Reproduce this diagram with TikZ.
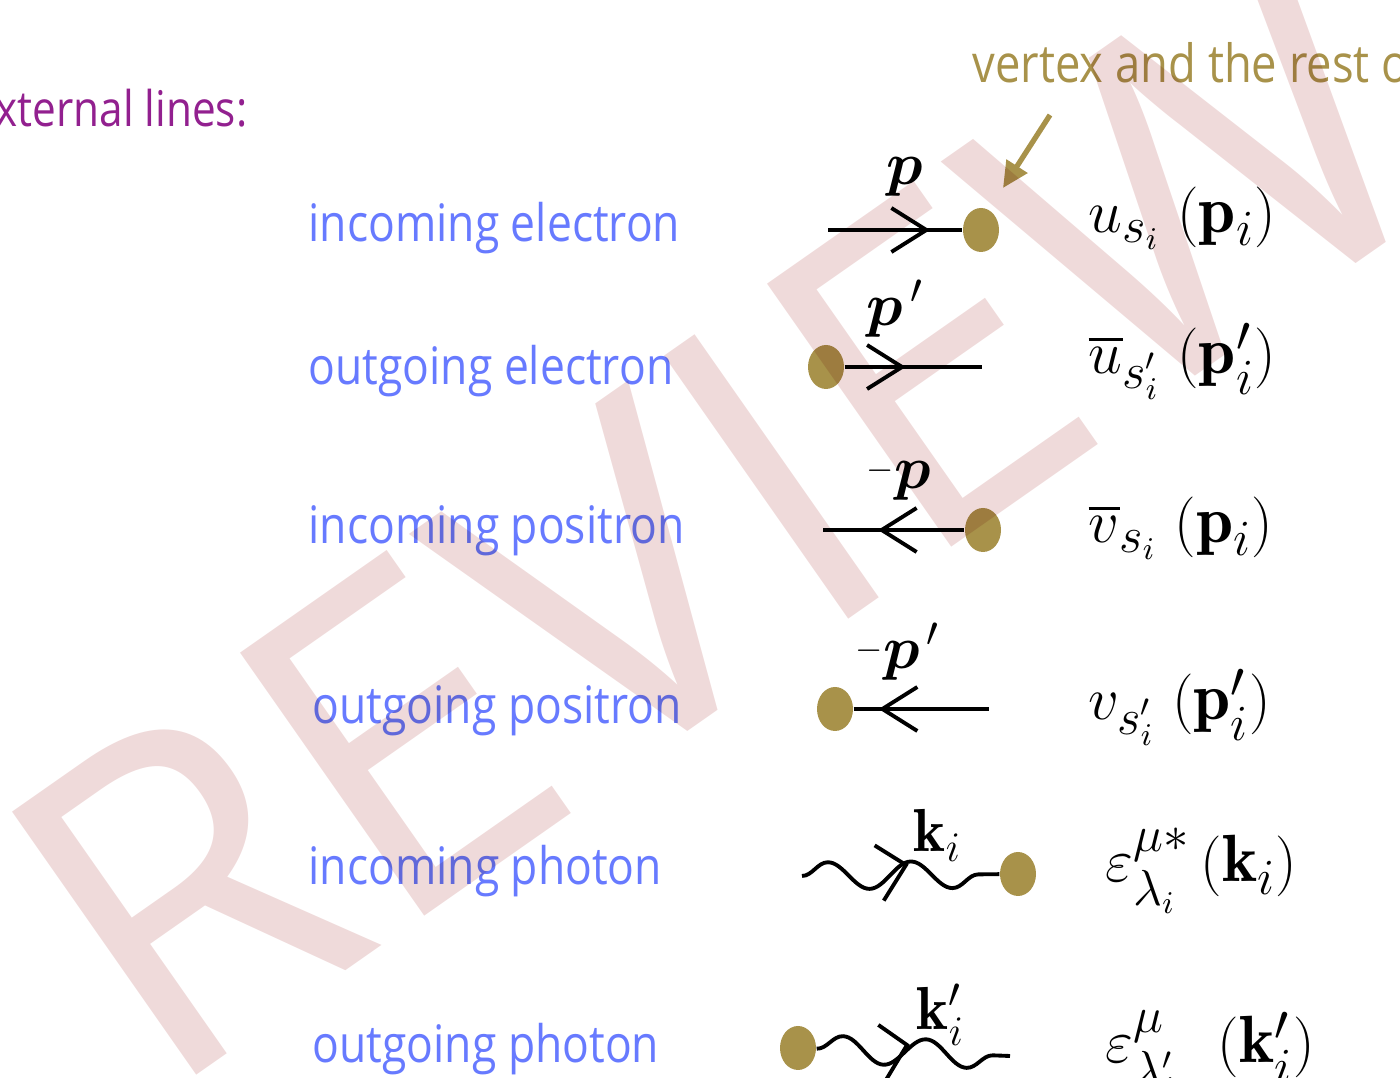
\documentclass[tikz,border=0pt]{standalone}
\usepackage{amsmath}
\usepackage{fontspec}
\usepackage{tikz}
\usetikzlibrary{arrows.meta,decorations.markings,decorations.pathmorphing,shapes.geometric}
\newfontfamily\slidefont[FakeStretch=0.86]{Open Sans}
\newfontfamily\stampfont{Open Sans}
\definecolor{slideBlue}{HTML}{677AFF}
\definecolor{slidePurple}{HTML}{92208F}
\definecolor{slideGold}{HTML}{A8924A}
\definecolor{stampPink}{HTML}{EFDADA}

\begin{document}
\begin{tikzpicture}[
  x=1cm,
  y=1cm,
  >=Latex,
  label/.style={anchor=base west, inner sep=0pt, text=slideBlue,
    font=\slidefont\fontsize{14.7}{17}\selectfont},
  heading/.style={anchor=base east, inner sep=0pt, text=slidePurple,
    font=\slidefont\fontsize{14}{17}\selectfont},
  note/.style={anchor=base west, inner sep=0pt, text=slideGold,
    font=\slidefont\fontsize{15}{18}\selectfont},
  factor/.style={anchor=base west, inner sep=0pt, font=\fontsize{19}{22}\selectfont},
  mom/.style={anchor=base west, inner sep=0pt, font=\fontsize{17.28}{20}\selectfont},
  vtx/.style={ellipse, fill=slideGold, minimum width=0.36cm, minimum height=0.44cm, inner sep=0pt},
  fermion/.style={line width=1.1pt, decoration={markings,
    mark=at position #1 with {\arrow{Straight Barb[length=3.5mm,width=4.4mm]}}},
    postaction={decorate}},
  antifermion/.style={line width=1.1pt, decoration={markings,
    mark=at position #1 with {\arrowreversed{Straight Barb[length=3.5mm,width=4.4mm]}}},
    postaction={decorate}},
  photon/.style={line width=1.1pt, decorate,
    decoration={snake, segment length=8.3mm, amplitude=1.35mm}},
  barb/.style={line width=1.1pt},
  pointer/.style={-{Triangle[length=2.6mm,width=2.4mm]}, line width=1.5pt, draw=slideGold},
  stamp/.style={anchor=base west, inner sep=0pt, rotate=35, text=stampPink,
    font=\stampfont\fontsize{128}{128}\selectfont}
]
\useasboundingbox (0,0) rectangle (14,-10.78);
\clip (0,0) rectangle (14,-10.78);

% headings
\node[heading] (title) at (2.48,-1.27) {External lines:};
\node[note]    (vnote) at (9.72,-0.83) {vertex and the rest of};
\coordinate (ptail) at (10.50,-1.15);
\coordinate (phead) at (10.03,-1.88);
\draw[pointer] (ptail) -- (phead);

% particle names
\node[label] (lab1) at (3.08,-2.42)  {incoming electron};
\node[label] (lab2) at (3.08,-3.85)  {outgoing electron};
\node[label] (lab3) at (3.08,-5.44)  {incoming positron};
\node[label] (lab4) at (3.12,-7.24)  {outgoing positron};
\node[label] (lab5) at (3.08,-8.85)  {incoming photon};
\node[label] (lab6) at (3.12,-10.63) {outgoing photon};

% electron lines
\coordinate (in1) at (8.28,-2.30);
\node[vtx] (v1) at (9.81,-2.30) {};
\draw[fermion=1.02cm] (in1) -- (v1);
\node[mom, anchor=base] (p1) at (9.05,-1.85) {$\boldsymbol{p}$};

\node[vtx] (v2) at (8.26,-3.67) {};
\coordinate (out2) at (9.82,-3.67);
\draw[fermion=0.61cm] (v2) -- (out2);
\node[mom] (p2) at (8.66,-3.26) {$\boldsymbol{p}^{\,\prime}$};

% positron lines
\coordinate (in3) at (8.23,-5.30);
\node[vtx] (v3) at (9.83,-5.30) {};
\draw[antifermion=0.55cm] (in3) -- (v3);
\node[mom] (p3) at (8.66,-4.89) {\raisebox{0.35ex}{$\scriptscriptstyle-$}$\boldsymbol{p}$};

\node[vtx] (v4) at (8.35,-7.09) {};
\coordinate (out4) at (9.89,-7.09);
\draw[antifermion=0.25cm] (v4) -- (out4);
\node[mom] (p4) at (8.55,-6.69) {\raisebox{0.35ex}{$\scriptscriptstyle-$}$\boldsymbol{p}^{\,\prime}$};

% photon lines
\coordinate (in5) at (8.02,-8.76);
\node[vtx] (v5) at (10.18,-8.74) {};
\draw[photon] (in5) -- (v5);
\coordinate (k5) at (9.06,-8.65);
\draw[barb] (k5) ++(148:0.37) -- (k5) -- ++(238:0.42);
\node[mom] (q5) at (9.13,-8.52) {$\mathbf{k}_i$};

\node[vtx] (v6) at (7.98,-10.48) {};
\coordinate (out6) at (10.10,-10.56);
\draw[photon] (v6) -- (out6);
\coordinate (k6) at (9.07,-10.45);
\draw[barb] (k6) ++(145:0.35) -- (k6) -- ++(239:0.40);
\node[mom] (q6) at (9.16,-10.30) {$\mathbf{k}'_i$};

% factors
\node[factor] (f1) at (10.88,-2.33)  {$u_{s_i}\;(\mathbf{p}_i)$};
\node[factor] (f2) at (10.88,-3.74)  {$\overline{u}_{s'_i}\;(\mathbf{p}'_i)$};
\node[factor] (f3) at (10.88,-5.43)  {$\overline{v}_{s_i}\;(\mathbf{p}_i)$};
\node[factor] (f4) at (10.88,-7.20)  {$v_{s'_i}\;(\mathbf{p}'_i)$};
\node[factor] (f5) at (11.05,-8.82)  {$\varepsilon^{\mu *}_{\lambda_i}\,(\mathbf{k}_i)$};
\node[factor] (f6) at (11.05,-10.63) {$\varepsilon^{\mu}_{\lambda'_i}\mkern12mu(\mathbf{k}'_i)$};

% watermark
\begin{scope}[blend mode=multiply]
\node[stamp] (mark) at (1.60,-11.01) {REVIEW};
\end{scope}
\end{tikzpicture}
\end{document}
